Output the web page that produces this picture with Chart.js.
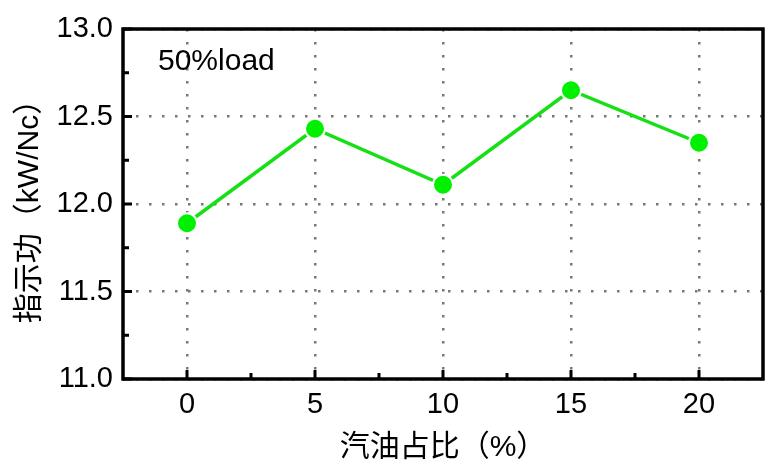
<!DOCTYPE html>
<html>
<head>
<meta charset="utf-8">
<script src="https://cdn.jsdelivr.net/npm/chart.js@4"></script>
<style>
  html, body { margin: 0; padding: 0; background: #fff; }
  #wrap { width: 781px; height: 468px; }
</style>
</head>
<body>
<div id="wrap"><canvas id="work"></canvas></div>
<script>
// 汽油占比 vs 指示功 (50% load)
const blendRatio = [0, 5, 10, 15, 20];
const indicatedWork = [11.89, 12.43, 12.11, 12.65, 12.35];
const xTicks = [0, 5, 10, 15, 20];
const yTicks = [11.0, 11.5, 12.0, 12.5, 13.0];
const noteText = '50%load';

const latin = '"Liberation Sans", Arial, "Noto Sans CJK SC", sans-serif';

// frame + inward ticks + note
const framePlugin = {
  id: 'frame',
  afterDraw(chart) {
    const ctx = chart.ctx;
    const a = chart.chartArea;
    const x = chart.scales.x, y = chart.scales.y;
    ctx.save();
    ctx.strokeStyle = '#000';
    ctx.lineWidth = 3.5;
    ctx.strokeRect(a.left, a.top, a.right - a.left, a.bottom - a.top);
    ctx.lineWidth = 3;
    ctx.beginPath();
    xTicks.forEach(v => {
      const px = x.getPixelForValue(v);
      ctx.moveTo(px, a.bottom); ctx.lineTo(px, a.bottom - 9);
      const mx = x.getPixelForValue(v + 2.5);
      if (v + 2.5 < x.max) { ctx.moveTo(mx, a.bottom); ctx.lineTo(mx, a.bottom - 6); }
    });
    yTicks.forEach(v => {
      const py = y.getPixelForValue(v);
      ctx.moveTo(a.left, py); ctx.lineTo(a.left + 9, py);
      if (v + 0.25 < y.max) {
        const my = y.getPixelForValue(v + 0.25);
        ctx.moveTo(a.left, my); ctx.lineTo(a.left + 6, my);
      }
    });
    ctx.stroke();
    ctx.fillStyle = '#000';
    ctx.font = '30px ' + latin;
    ctx.textBaseline = 'alphabetic';
    ctx.fillText(noteText, a.left + 35, a.top + 41);
    ctx.restore();
  }
};

const ctx = document.getElementById('work').getContext('2d');
new Chart(ctx, {
  type: 'line',
  data: {
    datasets: [{
      data: blendRatio.map((v, i) => ({ x: v, y: indicatedWork[i] })),
      borderColor: '#14e014',
      borderWidth: 3.5,
      pointRadius: 10,
      pointBackgroundColor: '#00f000',
      pointBorderColor: '#fff',
      pointBorderWidth: 2,
      tension: 0
    }]
  },
  options: {
    responsive: true,
    maintainAspectRatio: false,
    animation: false,
    layout: { padding: { top: 29, right: 18, left: 0, bottom: 0 } },
    plugins: {
      legend: { display: false },
      tooltip: { enabled: false }
    },
    scales: {
      x: {
        type: 'linear',
        min: -2.5,
        max: 22.5,
        afterBuildTicks: s => { s.ticks = xTicks.map(v => ({ value: v })); },
        afterFit: s => { s.height = 89; },
        grid: { color: '#777', lineWidth: 2.5, drawTicks: false },
        border: { display: false, dash: [2.5, 10.5] },
        ticks: {
          padding: 9,
          color: '#000',
          font: { family: latin, size: 29 }
        },
        title: {
          display: true,
          text: '汽油占比（%）',
          color: '#000',
          font: { family: latin, size: 30, lineHeight: 1 },
          padding: { top: 0, bottom: 5 }
        }
      },
      y: {
        min: 11,
        max: 13,
        afterBuildTicks: s => { s.ticks = yTicks.map(v => ({ value: v })); },
        afterFit: s => { s.width = 123; },
        grid: { color: '#777', lineWidth: 2.5, drawTicks: false },
        border: { display: false, dash: [2.5, 10.5] },
        ticks: {
          padding: 10,
          color: '#000',
          font: { family: latin, size: 29 },
          callback: v => v.toFixed(1)
        },
        title: {
          display: true,
          text: '指示功（kW/Nc）',
          color: '#000',
          font: { family: latin, size: 30, lineHeight: 1 },
          padding: { top: 15, bottom: 0 }
        }
      }
    }
  },
  plugins: [framePlugin]
});
</script>
</body>
</html>
